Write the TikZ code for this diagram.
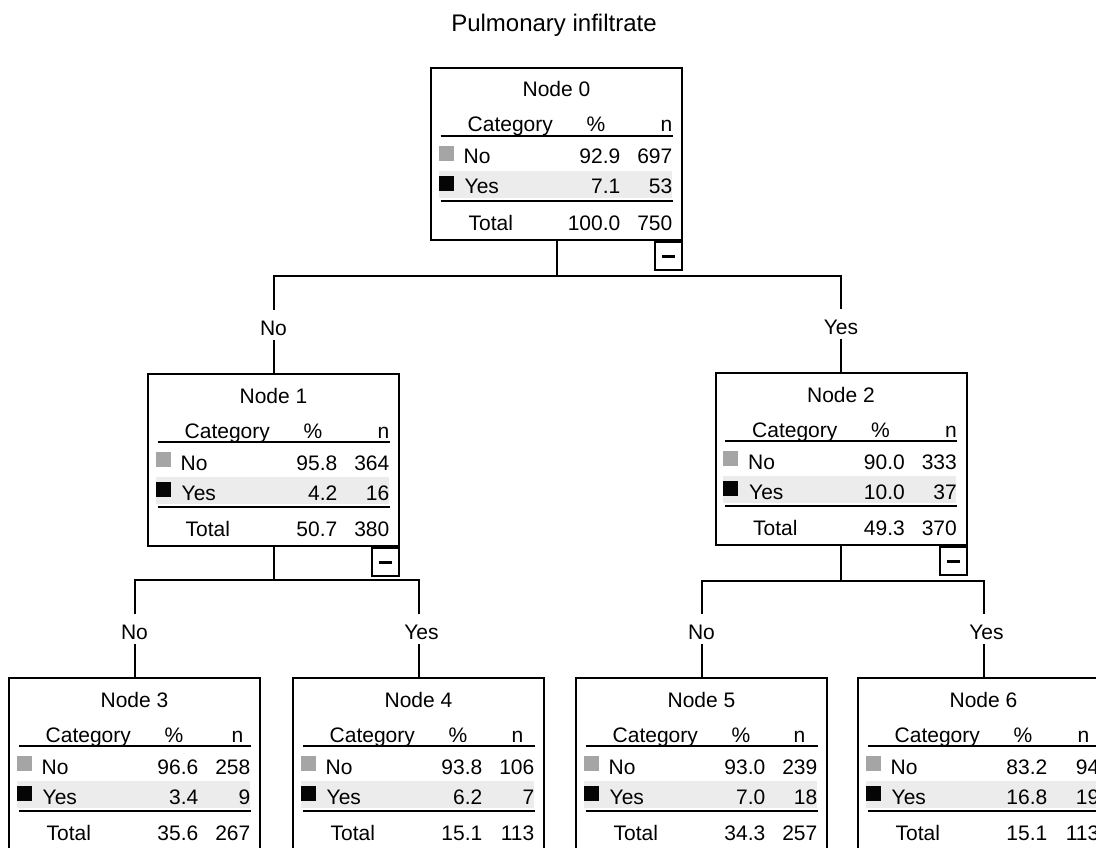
\documentclass[tikz,border=0pt]{standalone}
\usepackage{fontspec}
\setmainfont{Liberation Sans}

\definecolor{bandgray}{HTML}{EBECEB}
\definecolor{nogray}{HTML}{A5A5A5}
\definecolor{yesblack}{HTML}{050505}

\newcommand{\cattable}[9]{
\begin{scope}[shift={(#1.north)}]
\fill[bandgray] (-118,104) rectangle (115,131);
\fill[nogray] (-118,79) rectangle (-103,94);
\fill[yesblack] (-118,109) rectangle (-103,124);
\draw[rule] (-116,69) -- (116,69);
\draw[rule] (-116,134) -- (116,134);
\node[txt,anchor=base] (#1-title) at (0,30) {#2};
\node[txt,anchor=base west] (#1-cat) at (-89,65) {Category};
\node[txt,anchor=base] (#1-pct) at (39.5,65) {\%};
\node[txt,anchor=base east] (#1-n) at (#9,65) {n};
\node[txt,anchor=base west] (#1-no) at (-93,97) {No};
\node[txt,anchor=base east] (#1-nopct) at (64,97) {#3};
\node[txt,anchor=base east] (#1-non) at (116,97) {#4};
\node[txt,anchor=base west] (#1-yes) at (-92,127) {Yes};
\node[txt,anchor=base east] (#1-yespct) at (64,127) {#5};
\node[txt,anchor=base east] (#1-yesn) at (116,127) {#6};
\node[txt,anchor=base west] (#1-tot) at (-88,163) {Total};
\node[txt,anchor=base east] (#1-totpct) at (64,163) {#7};
\node[txt,anchor=base east] (#1-totn) at (116,163) {#8};
\end{scope}
}

\begin{document}
\begin{tikzpicture}[x=1pt,y=-1pt]
\tikzstyle{txt}=[inner sep=0pt,font=\fontsize{21}{25}\selectfont]
\tikzstyle{box}=[draw,line width=2pt,rectangle,minimum width=251pt,minimum height=172pt,inner sep=0pt]
\tikzstyle{minusbox}=[draw,line width=2pt,rectangle,minimum width=27pt,minimum height=28pt,inner sep=0pt,anchor=north east]
\tikzstyle{rule}=[line width=2pt]
\tikzstyle{conn}=[line width=2pt]
\tikzstyle{branch}=[fill=white,inner xsep=1pt,inner ysep=4.5pt,text height=21pt,text depth=0pt,font=\fontsize{21}{25}\selectfont]

\useasboundingbox (0,0) rectangle (1096,848);

\node[anchor=base,inner sep=0pt,font=\fontsize{24}{28}\selectfont] (title) at (554,31.5) {Pulmonary infiltrate};

\node[box] (n0) at (556.5,154) {};
\node[box] (n1) at (273.5,460) {};
\node[box] (n2) at (841,459) {};
\node[box] (n3) at (134.5,764) {};
\node[box] (n4) at (418.5,764) {};
\node[box] (n5) at (701.5,764) {};
\node[box] (n6) at (983.5,764) {};

\node[minusbox] (n0-minus) at (n0.south east) {\rule{13pt}{3pt}};
\node[minusbox] (n1-minus) at (n1.south east) {\rule{13pt}{3pt}};
\node[minusbox] (n2-minus) at (n2.south east) {\rule{13pt}{3pt}};

\cattable{n0}{Node 0}{92.9}{697}{7.1}{53}{100.0}{750}{116}
\cattable{n1}{Node 1}{95.8}{364}{4.2}{16}{50.7}{380}{116}
\cattable{n2}{Node 2}{90.0}{333}{10.0}{37}{49.3}{370}{116}
\cattable{n3}{Node 3}{96.6}{258}{3.4}{9}{35.6}{267}{109}
\cattable{n4}{Node 4}{93.8}{106}{6.2}{7}{15.1}{113}{105}
\cattable{n5}{Node 5}{93.0}{239}{7.0}{18}{34.3}{257}{104}
\cattable{n6}{Node 6}{83.2}{94}{16.8}{19}{15.1}{113}{106}

\draw[conn] (n0.south) -- ++(0,35) -| node[branch,pos=0.75] (b1) {No} (n1.north);
\draw[conn] (n0.south) -- ++(0,35) -| node[branch,pos=0.75] (b2) {Yes} (n2.north);
\draw[conn] (n1.south) -- ++(0,33) -| node[branch,pos=0.75] (b3) {No} (n3.north);
\draw[conn] (n1.south) -- ++(0,33) -| node[branch,pos=0.75,xshift=3pt] (b4) {Yes} (n4.north);
\draw[conn] (n2.south) -- ++(0,35) -| node[branch,pos=0.75] (b5) {No} (n5.north);
\draw[conn] (n2.south) -- ++(0,35) -| node[branch,pos=0.75,xshift=3pt] (b6) {Yes} (n6.north);
\end{tikzpicture}
\end{document}
